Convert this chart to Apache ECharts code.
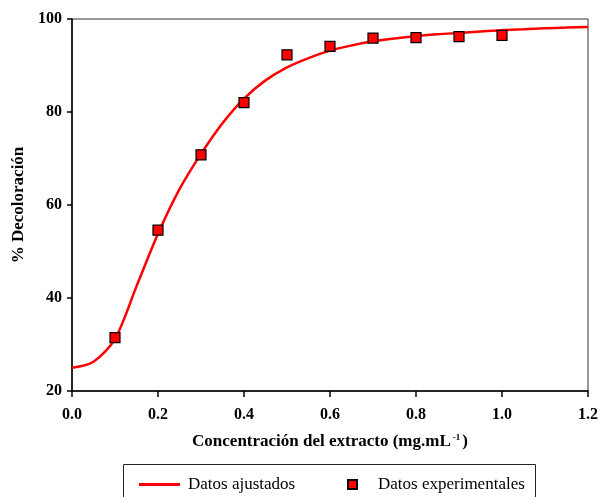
<!DOCTYPE html>
<html>
<head>
<meta charset="utf-8">
<script src="https://cdn.jsdelivr.net/npm/echarts@6/dist/echarts.min.js"></script>
<style>
  html, body { margin: 0; padding: 0; background: #fff; }
  #main { width: 601px; height: 497px; }
</style>
</head>
<body>
<div id="main"></div>
<script>
// fitted curve
var curveX = [0, 0.05, 0.1, 0.15, 0.2, 0.25, 0.3, 0.35, 0.4, 0.45, 0.5, 0.55, 0.6, 0.65, 0.7, 0.75, 0.8, 0.85, 0.9, 0.95, 1.0, 1.05, 1.1, 1.15, 1.2];
var curveY = [25.0, 26.3, 31.2, 42.5, 53.8, 63.4, 71.0, 77.6, 82.9, 86.8, 89.6, 91.6, 93.2, 94.3, 95.2, 95.8, 96.3, 96.7, 97.0, 97.3, 97.6, 97.8, 98.0, 98.15, 98.3];

// experimental points
var expX = [0.1, 0.2, 0.3, 0.4, 0.5, 0.6, 0.7, 0.8, 0.9, 1.0];
var expY = [31.5, 54.6, 70.8, 82, 92.3, 94.1, 95.9, 96, 96.2, 96.5];

var serif = "Liberation Serif";

var curveData = curveX.map(function (x, i) { return [x, curveY[i]]; });
var expData = expX.map(function (x, i) { return [x, expY[i]]; });

var myChart = echarts.init(document.getElementById("main"));
var option = {
  animation: false,
  backgroundColor: "#fff",
  grid: {
    left: 72, top: 19, right: 13, bottom: 106,
    show: true, borderColor: "#333", borderWidth: 1
  },
  graphic: [
    {
      type: "rect",
      shape: { x: 123.5, y: 464.5, width: 412, height: 50 },
      style: { fill: "none", stroke: "#222", lineWidth: 1 }
    }
  ],
  legend: [
    {
      data: [{ name: "Datos ajustados", icon: "rect" }],
      left: 134, top: 471,
      itemWidth: 41, itemHeight: 3,
      textStyle: { fontFamily: serif, fontSize: 17, color: "#000", padding: [0, 0, 0, 3] }
    },
    {
      data: [{ name: "Datos experimentales", icon: "rect" }],
      left: 342, top: 471,
      itemWidth: 9, itemHeight: 9,
      textStyle: { fontFamily: serif, fontSize: 17, color: "#000", padding: [0, 0, 0, 16] }
    }
  ],
  xAxis: {
    type: "value",
    min: 0, max: 1.2, interval: 0.2,
    name: "Concentración del extracto (mg.mL{sup|-1})",
    nameLocation: "middle",
    nameGap: 42,
    nameTextStyle: {
      fontFamily: serif, fontSize: 17, fontWeight: "bold", color: "#000",
      rich: { sup: { fontFamily: serif, fontSize: 9, fontWeight: "bold", color: "#000", verticalAlign: "top", padding: [0, 2, 9, 2] } }
    },
    axisLine: { onZero: false, lineStyle: { color: "#000", width: 1.5 } },
    axisTick: { show: true, inside: false, length: 6, lineStyle: { color: "#000", width: 1.5 } },
    axisLabel: {
      margin: 16,
      fontFamily: serif, fontSize: 16, fontWeight: "bold", color: "#000",
      formatter: function (v) { return v.toFixed(1); }
    },
    splitLine: { show: false }
  },
  yAxis: {
    type: "value",
    min: 20, max: 100, interval: 20,
    name: "% Decoloración",
    nameLocation: "middle",
    nameGap: 41,
    nameRotate: 90,
    nameTextStyle: { fontFamily: serif, fontSize: 17, fontWeight: "bold", color: "#000" },
    axisLine: { onZero: false, lineStyle: { color: "#000", width: 1.5 } },
    axisTick: { show: true, inside: false, length: 5, lineStyle: { color: "#000", width: 1.5 } },
    axisLabel: {
      margin: 10,
      fontFamily: serif, fontSize: 16, fontWeight: "bold", color: "#000"
    },
    splitLine: { show: false }
  },
  series: [
    {
      name: "Datos ajustados",
      type: "line",
      data: curveData,
      smooth: 0.3,
      symbol: "none",
      lineStyle: { color: "#ff0000", width: 2.5 },
      itemStyle: { color: "#ff0000" },
      z: 2
    },
    {
      name: "Datos experimentales",
      type: "scatter",
      data: expData,
      symbol: "rect",
      symbolSize: 10,
      itemStyle: { color: "#ff0000", borderColor: "#000", borderWidth: 1.2, opacity: 1 },
      z: 3
    }
  ]
};
option && myChart.setOption(option);
</script>
</body>
</html>
